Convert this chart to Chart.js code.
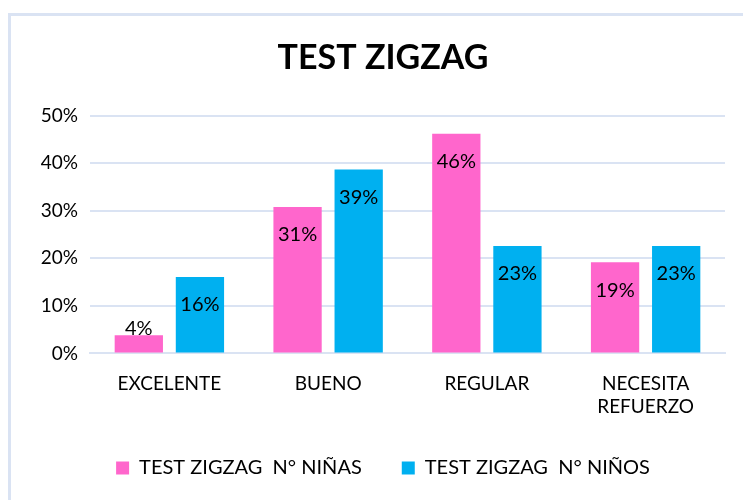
<!DOCTYPE html>
<html>
<head>
<meta charset="utf-8">
<script src="https://cdn.jsdelivr.net/npm/chart.js@4"></script>
<style>
  html, body { margin: 0; padding: 0; overflow: hidden; background: #fff; }
  #frame { position: absolute; left: 8px; top: 13px; width: 800px; height: 520px;
           border-left: 3px solid #dae3f3; border-top: 3px solid #dae3f3; }
  #wrap { position: absolute; left: 11px; top: 16px; width: 744px; height: 484px; }
</style>
</head>
<body>
<div id="frame"></div>
<div id="wrap"><canvas id="zigzagChart"></canvas></div>
<script>
// categories and values (shares of each group)
var categories = [['EXCELENTE'], ['BUENO'], ['REGULAR'], ['NECESITA', 'REFUERZO']];
var ninas = [0.038, 0.308, 0.462, 0.192];
var ninos = [0.161, 0.387, 0.226, 0.226];
var yTicks = [0, 0.1, 0.2, 0.3, 0.4, 0.5];

var FONT = 'Lato, "Liberation Sans", sans-serif';

// labels near the top of each bar, like Excel's "inside end"
var barLabels = {
    id: 'barLabels',
    afterDatasetsDraw(chart) {
        var ctx = chart.ctx;
        ctx.save();
        ctx.font = '20px ' + FONT;
        ctx.fillStyle = '#000';
        ctx.textAlign = 'center';
        ctx.textBaseline = 'middle';
        chart.data.datasets.forEach((ds, i) => {
            chart.getDatasetMeta(i).data.forEach((bar, j) => {
                var y = Math.min(bar.y + 28, bar.base - 24);
                ctx.fillText(Math.round(ds.data[j] * 100) + '%', bar.x, y);
            });
        });
        ctx.restore();
    }
};

new Chart(document.getElementById('zigzagChart'), {
    type: 'bar',
    data: {
        labels: categories,
        datasets: [{
            label: 'TEST ZIGZAG  N° NIÑAS',
            data: ninas,
            backgroundColor: '#ff66cc',
            categoryPercentage: 0.77,
            barPercentage: 0.79
        }, {
            label: 'TEST ZIGZAG  N° NIÑOS',
            data: ninos,
            backgroundColor: '#00b0f0',
            categoryPercentage: 0.77,
            barPercentage: 0.79
        }]
    },
    options: {
        responsive: true,
        maintainAspectRatio: false,
        animation: false,
        layout: { padding: { left: 0, right: 0, top: 0, bottom: 12 } },
        plugins: {
            title: {
                display: true,
                text: 'TEST ZIGZAG',
                color: '#000',
                font: { family: FONT, size: 34, weight: 'bold' },
                padding: { top: 22, bottom: 37 }
            },
            legend: {
                position: 'bottom',
                labels: {
                    color: '#000',
                    font: { family: FONT, size: 20 },
                    boxWidth: 13,
                    boxHeight: 13,
                    padding: 40
                }
            },
            tooltip: { enabled: false }
        },
        scales: {
            x: {
                grid: { display: false },
                border: { color: '#dae3f3', width: 2 },
                ticks: { color: '#000', font: { family: FONT, size: 19 }, padding: 11, maxRotation: 0 },
                afterFit: (s) => { s.height = s.height - 11; }
            },
            y: {
                min: 0,
                max: 0.5,
                afterBuildTicks: (s) => { s.ticks = yTicks.map(v => ({ value: v })); },
                afterFit: (s) => { s.width = 79; },
                grid: { color: '#dae3f3', lineWidth: 2, drawTicks: false },
                border: { display: false },
                ticks: {
                    color: '#000',
                    font: { family: FONT, size: 19 },
                    padding: 12,
                    callback: v => Math.round(v * 100) + '%'
                }
            },
            // empty right-hand axis, only to leave room on the right
            spacer: {
                position: 'right',
                display: true,
                grid: { display: false },
                border: { display: false },
                ticks: { display: false },
                afterFit: (s) => { s.width = 30; }
            }
        }
    },
    plugins: [barLabels]
});
</script>
</body>
</html>
